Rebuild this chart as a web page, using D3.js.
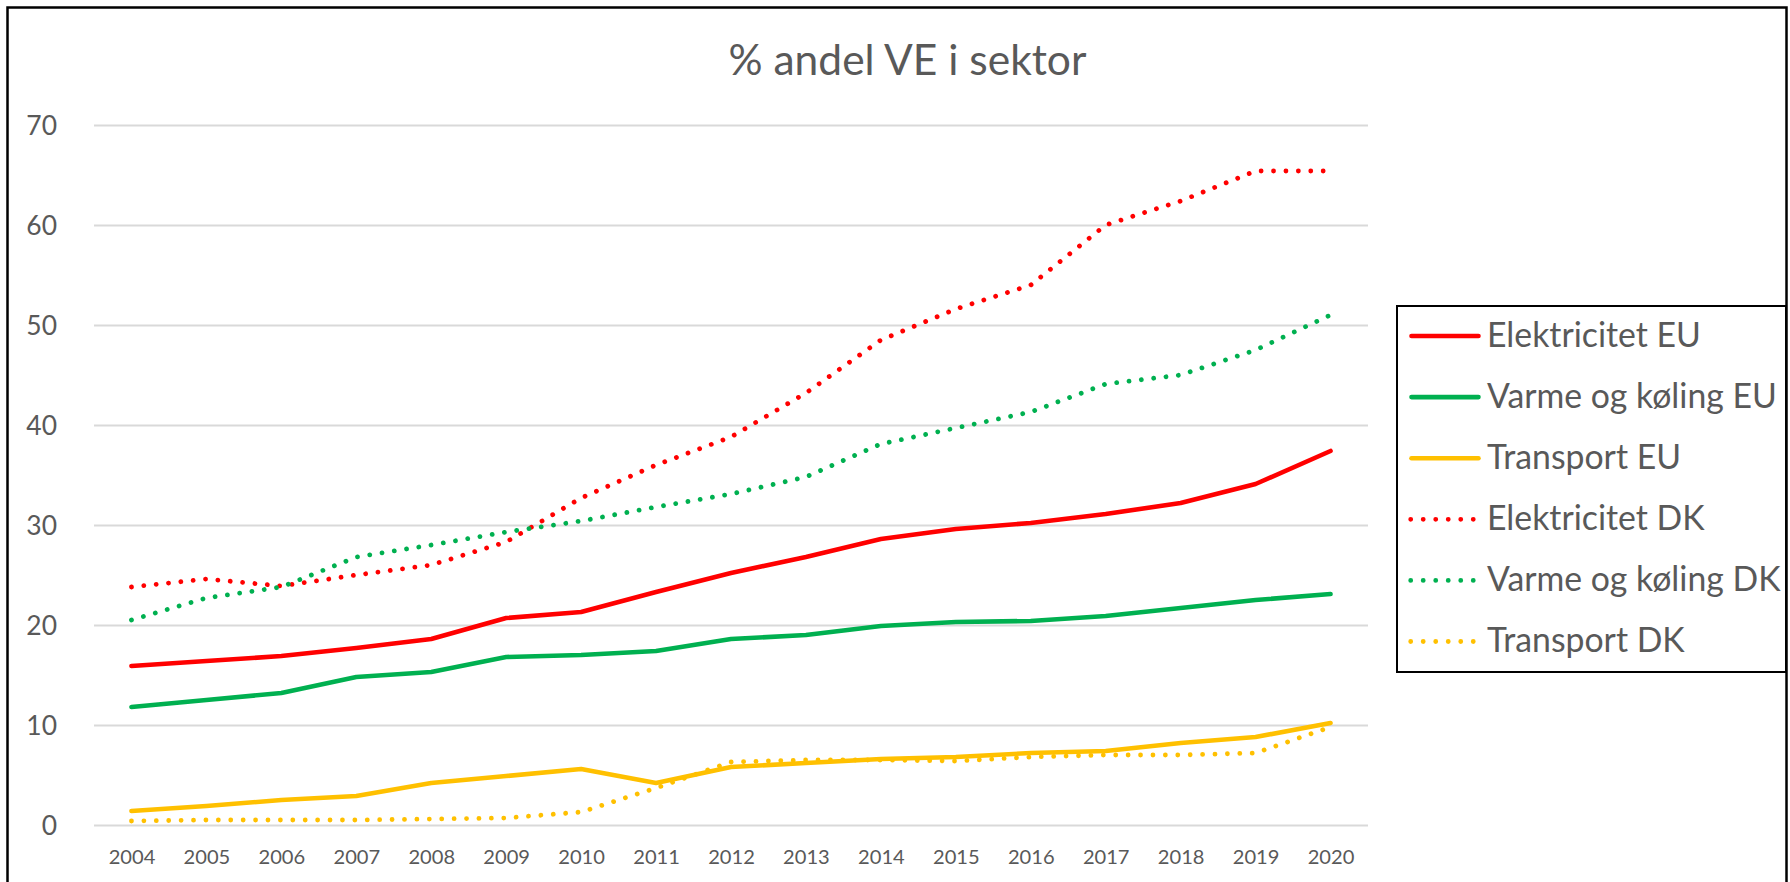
<!DOCTYPE html>
<html>
<head>
<meta charset="utf-8">
<script src="https://cdn.jsdelivr.net/npm/d3@7"></script>
<style>
  body { margin: 0; background: #fff; }
  svg { display: block; }
  text { font-family: Lato, "Open Sans", sans-serif; fill: #595959; }
</style>
</head>
<body>
<div id="chart"></div>
<script>
var years = ["2004","2005","2006","2007","2008","2009","2010","2011","2012","2013","2014","2015","2016","2017","2018","2019","2020"];

var elektricitetEU = [15.9, 16.4, 16.9, 17.7, 18.6, 20.7, 21.3, 23.3, 25.2, 26.8, 28.6, 29.6, 30.2, 31.1, 32.2, 34.1, 37.4];
var varmeEU        = [11.8, 12.5, 13.2, 14.8, 15.3, 16.8, 17.0, 17.4, 18.6, 19.0, 19.9, 20.3, 20.4, 20.9, 21.7, 22.5, 23.1];
var transportEU    = [1.4, 1.9, 2.5, 2.9, 4.2, 4.9, 5.6, 4.2, 5.8, 6.2, 6.6, 6.8, 7.2, 7.4, 8.2, 8.8, 10.2];
var elektricitetDK = [23.8, 24.6, 23.9, 25.0, 26.0, 28.3, 32.7, 36.0, 38.8, 43.2, 48.5, 51.6, 54.0, 60.0, 62.4, 65.4, 65.4];
var varmeDK        = [20.5, 22.7, 23.8, 26.8, 28.0, 29.3, 30.4, 31.8, 33.1, 34.8, 38.1, 39.7, 41.3, 44.1, 45.0, 47.5, 51.0];
var transportDK    = [0.4, 0.5, 0.5, 0.5, 0.6, 0.7, 1.3, 3.7, 6.3, 6.5, 6.5, 6.4, 6.8, 7.0, 7.0, 7.2, 9.8];

var yTicks = [0, 10, 20, 30, 40, 50, 60, 70];
var title = "% andel VE i sektor";

var series = [
  {name: "Elektricitet EU",    values: elektricitetEU, color: "#FF0000", dotted: false},
  {name: "Varme og køling EU", values: varmeEU,        color: "#00B050", dotted: false},
  {name: "Transport EU",       values: transportEU,    color: "#FFC000", dotted: false},
  {name: "Elektricitet DK",    values: elektricitetDK, color: "#FF0000", dotted: true},
  {name: "Varme og køling DK", values: varmeDK,        color: "#00B050", dotted: true},
  {name: "Transport DK",       values: transportDK,    color: "#FFC000", dotted: true}
];

var width = 1790, height = 882;
var plot = {left: 94, right: 1368, top: 125, bottom: 825};

var svg = d3.select("#chart").append("svg")
    .attr("width", width)
    .attr("height", height);

// fit a font size so that sample text gets a given width
function fitFont(sel, sample, target) {
  var t = svg.append("text").attr("font-size", 100).text(sample);
  var w = t.node().getComputedTextLength();
  t.remove();
  var fs = 100 * target / w;
  sel.attr("font-size", fs);
  return fs;
}

// outer frame
svg.append("rect")
    .attr("x", 7.5).attr("y", 7.5)
    .attr("width", 1779).attr("height", 900)
    .attr("fill", "none")
    .attr("stroke", "#000")
    .attr("stroke-width", 2.5);

var x = d3.scalePoint()
    .domain(years)
    .range([plot.left, plot.right])
    .padding(0.5);

var y = d3.scaleLinear()
    .domain([0, 70])
    .range([plot.bottom, plot.top]);

// gridlines + y labels
var yAxis = d3.axisLeft(y)
    .tickValues(yTicks)
    .tickSizeInner(-(plot.right - plot.left))
    .tickSizeOuter(0)
    .tickPadding(37);

var gy = svg.append("g")
    .attr("transform", "translate(" + plot.left + ",0)")
    .call(yAxis);
gy.select(".domain").remove();
gy.selectAll(".tick line").attr("stroke", "#d9d9d9").attr("stroke-width", 2);
gy.selectAll(".tick text")
    .attr("font-family", null)
    .attr("fill", null)
    .attr("dy", "0.36em");
fitFont(gy.selectAll(".tick text"), "70", 30.7);

// x labels
var xAxis = d3.axisBottom(x).tickSize(0);
var gx = svg.append("g")
    .attr("transform", "translate(0," + plot.bottom + ")")
    .call(xAxis);
gx.select(".domain").remove();
gx.selectAll(".tick text")
    .attr("font-family", null)
    .attr("fill", null)
    .attr("y", 39)
    .attr("dy", 0);
fitFont(gx.selectAll(".tick text"), "2004", 46.7);

// lines
var line = d3.line()
    .x(function(d, i) { return x(years[i]); })
    .y(function(d) { return y(d); });

// draw DK dotted first? Excel draws in series order
svg.selectAll("path.series")
  .data(series)
  .enter().append("path")
    .attr("class", "series")
    .attr("d", function(d) { return line(d.values); })
    .attr("fill", "none")
    .attr("stroke", function(d) { return d.color; })
    .attr("stroke-width", function(d) { return d.dotted ? 4.8 : 4.6; })
    .attr("stroke-linecap", "round")
    .attr("stroke-linejoin", "round")
    .attr("stroke-dasharray", function(d) { return d.dotted ? "0.01 12.4" : null; });

// title
var tt = svg.append("text")
    .attr("x", 907.5)
    .attr("y", 75)
    .attr("text-anchor", "middle")
    .text(title);
fitFont(tt, title, 358);

// legend
var legend = svg.append("g");
legend.append("rect")
    .attr("x", 1397).attr("y", 306)
    .attr("width", 389).attr("height", 366)
    .attr("fill", "#fff")
    .attr("stroke", "#000")
    .attr("stroke-width", 2);

var rowH = 61.1, row0 = 336;
var items = legend.selectAll("g.item")
  .data(series)
  .enter().append("g")
    .attr("class", "item")
    .attr("transform", function(d, i) { return "translate(0," + (row0 + i * rowH) + ")"; });

items.append("line")
    .attr("x1", function(d) { return d.dotted ? 1410.7 : 1411.5; })
    .attr("x2", function(d) { return d.dotted ? 1474 : 1478.5; })
    .attr("y1", 0).attr("y2", 0)
    .attr("stroke", function(d) { return d.color; })
    .attr("stroke-width", function(d) { return d.dotted ? 4.8 : 4.6; })
    .attr("stroke-linecap", "round")
    .attr("stroke-dasharray", function(d) { return d.dotted ? "0.01 12.5" : null; });

var lt = items.append("text")
    .attr("x", 1487)
    .attr("y", 10.7)
    .text(function(d) { return d.name; });
fitFont(lt, "Varme og køling EU", 290);
</script>
</body>
</html>
